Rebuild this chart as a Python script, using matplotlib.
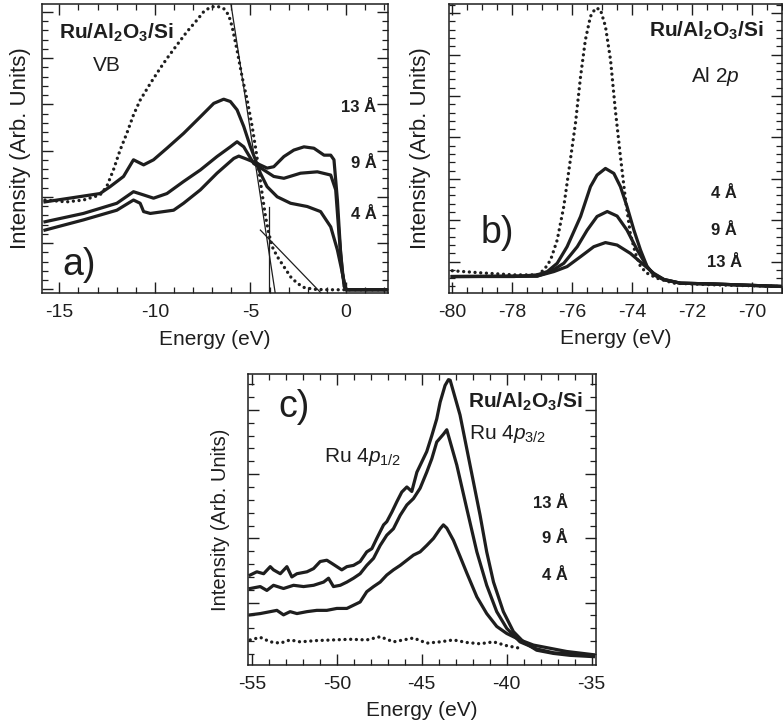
import matplotlib
matplotlib.use("Agg")
import matplotlib.pyplot as plt
from matplotlib.ticker import MultipleLocator, NullFormatter

plt.rcParams['font.family'] = ['Liberation Sans', 'DejaVu Sans']
plt.rcParams['mathtext.fontset'] = 'custom'
plt.rcParams['mathtext.rm'] = 'Liberation Sans'
plt.rcParams['mathtext.it'] = 'Liberation Sans:italic'
plt.rcParams['mathtext.bf'] = 'Liberation Sans:bold'
plt.rcParams['axes.unicode_minus'] = False

INK = '#1e1e1e'

# ---------------- a) valence band ----------------
vb_ref_e = [-15.75, -14.62, -13.74, -12.87, -12.52, -12.17, -11.82, -11.47, -11.12, -10.77,
            -10.24, -9.72, -9.37, -8.85, -8.32, -7.80, -7.45, -7.10, -6.75, -6.40, -6.14,
            -5.96, -5.70, -5.44, -5.17, -4.91, -4.74, -4.56, -4.39, -4.21, -4.04, -3.86,
            -3.60, -3.25, -2.90, -2.55, -2.20, -1.68, -0.98, 0.77, 2.2]
vb_ref_i = [1.93, 1.89, 1.93, 2.04, 2.22, 2.58, 3.01, 3.37, 3.77, 4.09,
            4.45, 4.78, 4.99, 5.28, 5.57, 5.82, 6.00, 6.10, 6.12, 6.07, 5.93,
            5.68, 5.17, 4.60, 4.09, 3.52, 3.08, 2.58, 2.07, 1.57, 1.21, 0.92,
            0.71, 0.49, 0.27, 0.13, 0.04, 0.0, -0.01, -0.01, -0.01]

vb4_e = [-15.75, -12.87, -12.34, -11.64, -11.12, -10.59, -10.07, -9.37, -8.50, -7.62,
         -6.92, -6.40, -6.05, -5.70, -5.35, -5.0, -4.74, -4.48, -4.13, -3.60, -2.90,
         -2.03, -1.33, -0.80, -0.45, -0.19, -0.02, 2.2]
vb4_i = [1.89, 2.07, 2.22, 2.44, 2.80, 2.69, 2.80, 3.05, 3.37, 3.73,
         4.02, 4.11, 4.06, 3.88, 3.52, 3.08, 2.80, 2.51, 2.22, 2.00, 1.86,
         1.79, 1.68, 1.35, 0.85, 0.35, -0.01, -0.01]

vb9_e = [-15.75, -13.74, -11.99, -11.12, -10.59, -10.07, -9.37, -8.50, -7.62, -6.75,
         -6.05, -5.70, -5.35, -4.83, -4.30, -3.78, -3.25, -2.38, -1.50, -0.80, -0.54,
         -0.37, -0.19, -0.02, 2.2]
vb9_i = [1.46, 1.64, 1.86, 2.11, 2.04, 1.97, 2.07, 2.33, 2.58, 2.87,
         3.08, 3.19, 3.08, 2.72, 2.58, 2.44, 2.40, 2.51, 2.54, 2.47, 2.15,
         1.21, 0.35, -0.01, -0.01]

vb13_e = [-15.75, -13.74, -11.99, -11.12, -10.77, -10.59, -10.24, -9.02, -8.50, -7.62,
          -6.75, -5.87, -5.61, -5.17, -4.65, -4.13, -3.78, -3.25, -2.73, -2.20, -1.68,
          -1.15, -0.80, -0.63, -0.45, -0.28, -0.10, 0.07, 2.2]
vb13_i = [1.28, 1.50, 1.71, 1.93, 1.86, 1.68, 1.64, 1.71, 1.86, 2.15,
          2.51, 2.83, 2.88, 2.81, 2.72, 2.62, 2.65, 2.87, 3.01, 3.08, 3.05,
          2.90, 2.90, 2.80, 1.93, 0.78, 0.06, -0.01, -0.01]

# linear fits used to locate the valence band edge
edge_fit_e = [-6.05, -3.69]
edge_fit_i = [6.25, -0.12]
tail_fit_e = [-4.48, -1.33]
tail_fit_i = [1.28, -0.07]
vbm_e = [-4.02, -4.02]
vbm_i = [1.79, -0.2]

# ---------------- b) Al 2p ----------------
al_ref_e = [-80.0, -79.06, -77.94, -77.17, -76.94, -76.72, -76.50, -76.28, -76.06, -75.89,
            -75.72, -75.56, -75.39, -75.22, -75.06, -74.89, -74.72, -74.56, -74.39, -74.22,
            -74.06, -73.89, -73.72, -73.50, -73.17, -72.61, -71.28, -69.0]
al_ref_i = [-0.22, -0.27, -0.32, -0.32, -0.20, 0.04, 0.52, 1.33, 2.46, 3.34,
            4.47, 5.35, 5.92, 6.12, 6.09, 5.68, 4.87, 3.66, 2.54, 1.49,
            0.68, 0.20, -0.12, -0.28, -0.40, -0.52, -0.56, -0.60]

al4_e = [-80.0, -77.94, -77.17, -76.83, -76.50, -76.17, -75.72, -75.39, -75.17, -74.89,
         -74.61, -74.39, -74.17, -73.94, -73.72, -73.50, -73.28, -72.94, -72.39, -71.28, -69.0]
al4_i = [-0.36, -0.36, -0.32, -0.24, -0.04, 0.36, 1.09, 1.81, 2.09, 2.25,
         2.13, 1.81, 1.33, 0.76, 0.28, -0.12, -0.32, -0.44, -0.52, -0.54, -0.60]

al9_e = [-80.0, -77.17, -76.72, -76.28, -75.83, -75.5, -75.17, -74.83, -74.5, -74.17,
         -73.83, -73.5, -73.28, -72.94, -72.39, -71.28, -69.0]
al9_i = [-0.36, -0.35, -0.24, -0.04, 0.36, 0.76, 1.09, 1.21, 1.10, 0.76,
         0.28, -0.12, -0.30, -0.43, -0.52, -0.54, -0.60]

al13_e = [-80.0, -77.17, -76.61, -76.17, -75.72, -75.28, -74.89, -74.5, -74.06, -73.61,
          -73.28, -72.94, -72.39, -71.28, -69.0]
al13_i = [-0.36, -0.35, -0.24, -0.12, 0.12, 0.36, 0.46, 0.40, 0.20, -0.08,
          -0.28, -0.43, -0.52, -0.54, -0.60]

# ---------------- c) Ru 4p ----------------
ru_ref_e = [-55.10, -54.51, -53.92, -53.33, -52.75, -52.16, -51.18, -50.20, -49.22, -48.24,
            -47.45, -46.67, -45.49, -44.71, -43.92, -43.14, -42.35, -41.57, -40.78, -40.0, -39.22]
ru_ref_i = [-0.58, -0.54, -0.61, -0.63, -0.58, -0.61, -0.59, -0.58, -0.57, -0.58,
            -0.53, -0.61, -0.55, -0.63, -0.61, -0.58, -0.62, -0.64, -0.61, -0.67, -0.71]

ru13_e = [-55.10, -54.71, -54.31, -53.92, -53.73, -53.33, -52.94, -52.65, -52.35, -51.76,
          -51.37, -50.98, -50.59, -50.29, -50.0, -49.71, -49.41, -49.02, -48.63, -48.24,
          -47.94, -47.65, -47.25, -47.06, -46.76, -46.47, -46.18, -45.88, -45.59, -45.29,
          -45.0, -44.71, -44.41, -44.12, -43.92, -43.63, -43.43, -43.33, -42.75, -42.16,
          -41.57, -41.18, -40.78, -40.20, -39.61, -39.02, -38.24, -37.25, -36.27, -34.90]
ru13_i = [0.43, 0.48, 0.45, 0.56, 0.51, 0.45, 0.56, 0.40, 0.45, 0.48,
          0.53, 0.64, 0.66, 0.61, 0.56, 0.51, 0.56, 0.58, 0.64, 0.79,
          0.84, 1.00, 1.21, 1.26, 1.41, 1.57, 1.72, 1.80, 1.73, 2.03,
          2.19, 2.35, 2.60, 2.86, 3.12, 3.38, 3.47, 3.46, 2.92, 2.14,
          1.36, 0.79, 0.32, -0.14, -0.45, -0.61, -0.74, -0.79, -0.82, -0.84]

ru9_e = [-55.10, -54.51, -54.12, -53.73, -53.14, -52.55, -51.96, -51.37, -50.78, -50.49,
         -50.20, -49.80, -49.41, -49.02, -48.63, -48.24, -47.84, -47.45, -47.06, -46.67,
         -46.27, -45.88, -45.49, -45.10, -44.71, -44.41, -44.12, -43.73, -43.53, -42.94,
         -42.35, -41.76, -41.18, -40.59, -40.0, -39.22, -38.24, -37.25, -36.27, -34.90]
ru9_i = [0.22, 0.25, 0.19, 0.27, 0.22, 0.27, 0.25, 0.27, 0.32, 0.38,
         0.25, 0.27, 0.32, 0.38, 0.45, 0.58, 0.69, 0.89, 1.05, 1.15,
         1.36, 1.52, 1.62, 1.78, 2.03, 2.24, 2.50, 2.62, 2.69, 2.14,
         1.46, 0.79, 0.27, -0.14, -0.40, -0.61, -0.72, -0.78, -0.80, -0.83]

ru4_e = [-55.10, -54.51, -53.92, -53.53, -53.14, -52.75, -52.35, -51.76, -51.18, -50.59,
         -50.0, -49.41, -49.02, -48.63, -48.24, -47.84, -47.45, -47.06, -46.67, -46.27,
         -45.88, -45.49, -45.10, -44.71, -44.31, -43.92, -43.73, -43.53, -43.14, -42.75,
         -42.35, -41.76, -41.18, -40.59, -40.0, -39.22, -38.43, -36.47, -34.90]
ru4_i = [-0.19, -0.17, -0.14, -0.12, -0.19, -0.14, -0.17, -0.14, -0.12, -0.12,
         -0.09, -0.09, -0.04, 0.01, 0.17, 0.25, 0.32, 0.43, 0.51, 0.58,
         0.66, 0.74, 0.79, 0.89, 1.00, 1.15, 1.21, 1.16, 0.97, 0.72,
         0.46, 0.09, -0.17, -0.37, -0.48, -0.58, -0.66, -0.76, -0.81]

thickness_labels = ['4 Å', '9 Å', '13 Å']
sample_label = r'$\mathbf{Ru/Al_2O_3/Si}$'

fig = plt.figure(figsize=(7.83, 7.27), dpi=100)
ax_a = fig.add_axes([0.0533, 0.5966, 0.4423, 0.3980])
ax_b = fig.add_axes([0.5738, 0.5974, 0.4249, 0.3971])
ax_c = fig.add_axes([0.3163, 0.0853, 0.4448, 0.3996])


def style_axes(ax, xmajor, xminor, ylabel_size, ylabel_pad):
    ax.xaxis.set_major_locator(MultipleLocator(xmajor))
    ax.xaxis.set_minor_locator(MultipleLocator(xminor))
    ax.yaxis.set_major_locator(MultipleLocator(1.0))
    ax.yaxis.set_minor_locator(MultipleLocator(0.2))
    ax.yaxis.set_major_formatter(NullFormatter())
    ax.tick_params(which='both', direction='in', top=True, right=True,
                   color=INK, labelcolor=INK, labelsize=14, pad=8)
    ax.tick_params(which='major', length=8, width=1.0)
    ax.tick_params(which='minor', length=4, width=0.9)
    for s in ax.spines.values():
        s.set_linewidth(1.1)
        s.set_color(INK)
    ax.set_xlabel('Energy (eV)', fontsize=15, color=INK, labelpad=6)
    ax.set_ylabel('Intensity (Arb. Units)', fontsize=ylabel_size, color=INK,
                  labelpad=ylabel_pad)


solid = dict(color=INK, lw=2.3, solid_joinstyle='round')
dotted = dict(color=INK, lw=2.4, ls=(0, (0.01, 1.7)), dash_capstyle='round')

# panel a
ax_a.plot(vb_ref_e, vb_ref_i, **dotted)
ax_a.plot(vb4_e, vb4_i, **solid)
ax_a.plot(vb9_e, vb9_i, **solid)
ax_a.plot(vb13_e, vb13_i, **solid)
ax_a.plot(edge_fit_e, edge_fit_i, color=INK, lw=0.9)
ax_a.plot(tail_fit_e, tail_fit_i, color=INK, lw=0.9)
ax_a.plot(vbm_e, vbm_i, color=INK, lw=0.9)
ax_a.set_xlim(-15.92, 2.2)
ax_a.set_ylim(-0.086, 6.17)
style_axes(ax_a, 5, 1, 16, 0)
ax_a.text(-15.02, 5.55, sample_label, fontsize=15, color=INK, va='center', ha='left')
ax_a.text(-13.23, 4.83, 'VB', fontsize=15, color=INK, va='center', ha='left')
ax_a.text(-14.86, 0.52, 'a)', fontsize=27, color=INK, va='center', ha='left')
for lab, y in zip(thickness_labels, [1.61, 2.73, 3.92]):
    ax_a.text(1.6, y, lab, fontsize=12, fontweight='bold', color=INK, va='center', ha='right')

# panel b
ax_b.plot(al_ref_e, al_ref_i, **dotted)
ax_b.plot(al4_e, al4_i, **solid)
ax_b.plot(al9_e, al9_i, **solid)
ax_b.plot(al13_e, al13_i, **solid)
ax_b.set_xlim(-80.1, -69.0)
ax_b.set_ylim(-0.75, 6.22)
style_axes(ax_b, 2, 0.5, 16, 5)
ax_b.text(-69.6, 5.58, sample_label, fontsize=15, color=INK, va='center', ha='right')
ax_b.text(-71.22, 4.47, r'Al $2p$', fontsize=15, color=INK, va='center', ha='center')
ax_b.text(-79.06, 0.69, 'b)', fontsize=27, color=INK, va='center', ha='left')
for lab, y in zip(thickness_labels, [1.65, 0.76, -0.03]):
    ax_b.text(-70.92, y, lab, fontsize=12, fontweight='bold', color=INK, va='center', ha='center')

# panel c
ax_c.plot(ru_ref_e, ru_ref_i, **dotted)
ax_c.plot(ru4_e, ru4_i, **solid)
ax_c.plot(ru9_e, ru9_i, **solid)
ax_c.plot(ru13_e, ru13_i, **solid)
ax_c.set_xlim(-55.25, -34.75)
ax_c.set_ylim(-0.97, 3.55)
style_axes(ax_c, 5, 1, 14.5, 5)
ax_c.text(-53.43, 3.05, 'c)', fontsize=27, color=INK, va='center', ha='left')
ax_c.text(-42.3, 3.13, sample_label, fontsize=15, color=INK, va='center', ha='left')
ax_c.text(-42.2, 2.63, r'Ru $4p_{3/2}$', fontsize=15, color=INK, va='center', ha='left')
ax_c.text(-50.75, 2.27, r'Ru $4p_{1/2}$', fontsize=15, color=INK, va='center', ha='left')
for lab, y in zip(thickness_labels, [0.43, 1.0, 1.54]):
    ax_c.text(-36.4, y, lab, fontsize=12, fontweight='bold', color=INK, va='center', ha='right')

fig.savefig('out.png', dpi=100)
